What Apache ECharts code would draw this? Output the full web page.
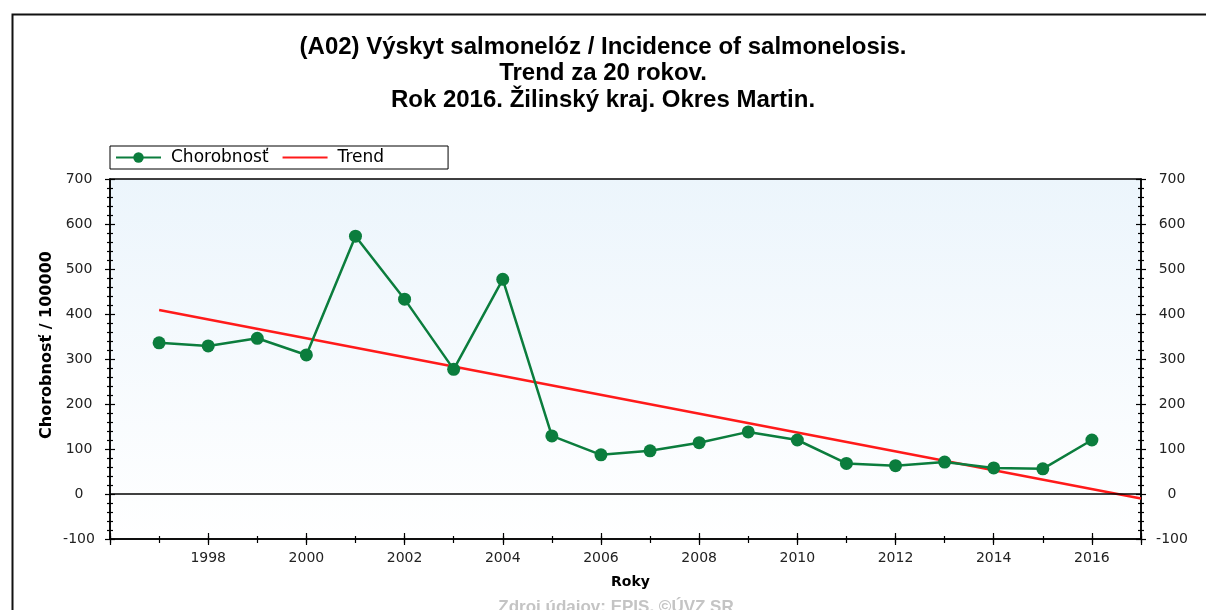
<!DOCTYPE html>
<html>
<head>
<meta charset="utf-8">
<title>Výskyt salmonelóz</title>
<script src="https://cdn.jsdelivr.net/npm/echarts@6/dist/echarts.min.js"></script>
<style>
  html, body { margin: 0; padding: 0; background: #fff; }
  #chart { width: 1206px; height: 610px; }
</style>
</head>
<body>
<div id="chart"></div>
<script>
// roky a hodnoty chorobnosti (odčítané z grafu)
var roky = [1997, 1998, 1999, 2000, 2001, 2002, 2003, 2004, 2005, 2006,
            2007, 2008, 2009, 2010, 2011, 2012, 2013, 2014, 2015, 2016];
var chorobnost = [336, 329, 346, 309, 573, 433, 277, 477, 129, 87,
                  96, 114, 138, 120, 68, 63, 71, 58, 56, 120];
// trend - koncové body priamky
var trendRoky = [1997, 2017];
var trendHodnoty = [409, -10];

var FONT = 'Liberation Sans, Arial, sans-serif';
var FONT2 = 'DejaVu Sans, Verdana, sans-serif';
var myChart = echarts.init(document.getElementById('chart'));

var gridRect = { left: 110, right: 65, top: 179, bottom: 71 };
function grid(extra) {
    return Object.assign({}, gridRect, extra || {});
}

// spolocne nastavenie osi
function xOs(idx, interval, len, inside, labels) {
    return {
        type: 'value', gridIndex: idx, min: 1996, max: 2017, interval: interval,
        axisLine: { show: idx === 0, onZero: false, lineStyle: { color: '#000', width: 1.5 } },
        axisTick: { show: true, length: len, inside: inside, lineStyle: { color: '#000', width: 1.2 } },
        splitLine: { show: false },
        axisLabel: labels ? {
            show: true, margin: 12, color: '#222', fontSize: 14, fontFamily: FONT2,
            formatter: function (v) { return (v % 2 !== 0 || v === 1996) ? '' : String(v); }
        } : { show: false }
    };
}
function yOs(idx, pos, inside, labels) {
    return {
        type: 'value', gridIndex: idx, position: pos, min: -100, max: 700, interval: 100,
        axisLine: { show: idx === 0, onZero: false, lineStyle: { color: '#000', width: 1.5 } },
        axisTick: { show: true, length: 5, inside: inside, lineStyle: { color: '#000', width: 1.2 } },
        minorTick: { show: true, splitNumber: 5, length: 3, lineStyle: { color: '#000', width: 1.2 } },
        splitLine: { show: false },
        axisLabel: labels ? {
            show: true, align: 'center', margin: 31, color: '#222', fontSize: 14, fontFamily: FONT2
        } : { show: false }
    };
}

var xAxes = [
    xOs(0, 2, 6, false, true),
    xOs(1, 2, 6, true, false),
    xOs(2, 1, 4, false, false),
    xOs(3, 1, 3, true, false)
];
xAxes[0].name = 'Roky';
xAxes[0].nameLocation = 'middle';
xAxes[0].nameGap = 36;
xAxes[0].nameTextStyle = { fontWeight: 'bold', fontSize: 14, color: '#000', fontFamily: FONT2, padding: [0, 0, 0, 10] };

var yAxes = [
    yOs(0, 'left', false, true),
    yOs(0, 'right', false, true),
    yOs(1, 'left', true, false),
    yOs(1, 'right', true, false),
    { type: 'value', gridIndex: 2, show: false, min: -100, max: 700 },
    { type: 'value', gridIndex: 3, show: false, min: -100, max: 700 }
];

var option = {
    animation: false,
    backgroundColor: '#fff',
    title: {
        text: '(A02) Výskyt salmonelóz / Incidence of salmonelosis.\nTrend za 20 rokov.\nRok 2016. Žilinský kraj. Okres Martin.',
        left: 'center',
        top: 29,
        textStyle: { fontSize: 24, fontWeight: 'bold', lineHeight: 26.5, color: '#000', fontFamily: FONT }
    },
    legend: {
        left: 110, top: 146,
        orient: 'horizontal',
        data: [
            { name: 'Chorobnosť' },
            { name: 'Trend', itemStyle: { opacity: 0 } }
        ],
        backgroundColor: '#fff',
        borderColor: '#000', borderWidth: 1, borderRadius: 0,
        padding: [3, 64, 3, 5],
        itemWidth: 45, itemHeight: 13, itemGap: 13,
        textStyle: { fontSize: 17, lineHeight: 16, color: '#000', fontFamily: FONT2, padding: [0, 0, 0, 5] }
    },
    grid: [
        grid({
            show: true, borderColor: '#000', borderWidth: 1.5,
            backgroundColor: new echarts.graphic.LinearGradient(0, 0, 0, 1, [
                { offset: 0, color: '#ecf5fc' },
                { offset: 1, color: '#ffffff' }
            ])
        }),
        grid(), grid(), grid()
    ],
    xAxis: xAxes,
    yAxis: yAxes,
    graphic: [
        {
            type: 'rect', left: 10, top: 12, silent: true,
            shape: { width: 1300, height: 700 },
            style: { fill: 'none', stroke: '#111', lineWidth: 2 }
        },
        {
            type: 'text', x: 47, y: 345, rotation: Math.PI / 2, silent: true,
            style: {
                text: 'Chorobnosť / 100000', fill: '#000', font: 'bold 16px ' + FONT2,
                align: 'center', verticalAlign: 'middle'
            }
        },
        {
            type: 'text', x: 616, y: 599, silent: true,
            style: {
                text: 'Zdroj údajov: EPIS, ©ÚVZ SR', fill: '#c4c4c4', font: 'bold 17px ' + FONT,
                align: 'center', verticalAlign: 'top'
            }
        }
    ],
    series: [
        {
            name: 'Chorobnosť',
            type: 'line',
            xAxisIndex: 0, yAxisIndex: 0,
            data: roky.map(function (r, i) { return [r, chorobnost[i]]; }),
            symbol: 'circle', symbolSize: 13,
            itemStyle: { color: '#0b7d3d' },
            lineStyle: { color: '#0b7d3d', width: 2.5 },
            z: 4,
            markLine: {
                silent: true, symbol: 'none', animation: false,
                label: { show: false },
                lineStyle: { color: '#000', width: 1.5, type: 'solid' },
                data: [{ yAxis: 0 }]
            }
        },
        {
            name: 'Trend',
            type: 'line',
            xAxisIndex: 0, yAxisIndex: 0,
            data: trendRoky.map(function (r, i) { return [r, trendHodnoty[i]]; }),
            symbol: 'none',
            itemStyle: { color: '#ff1a1a' },
            lineStyle: { color: '#ff1a1a', width: 2.5 },
            z: 3
        }
    ]
};

myChart.setOption(option);
</script>
</body>
</html>
